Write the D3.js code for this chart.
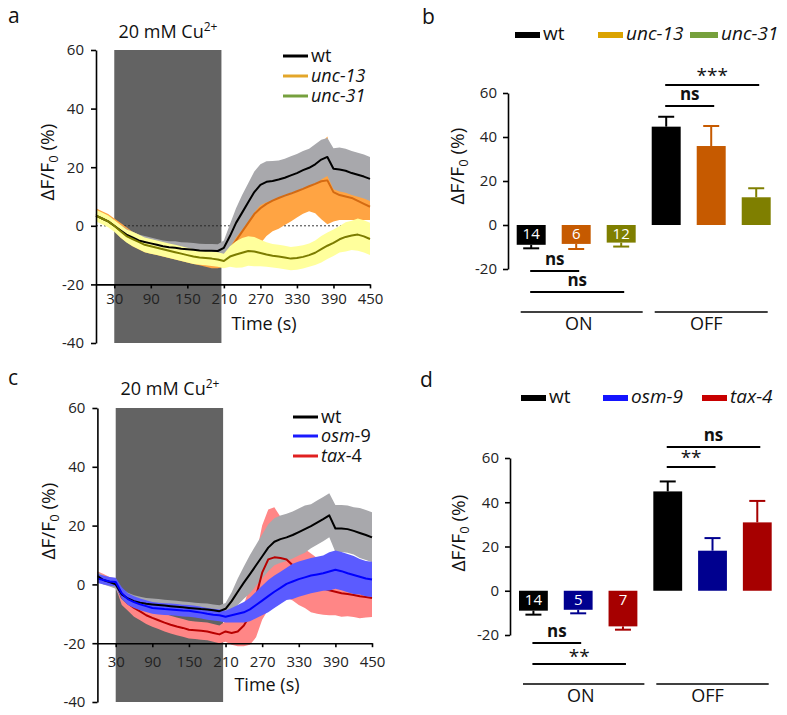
<!DOCTYPE html>
<html><head><meta charset="utf-8">
<script src="https://cdn.jsdelivr.net/npm/d3@7"></script>
<style>body{margin:0;background:#fff} svg{display:block} text{font-family:"Open Sans",sans-serif}</style>
</head><body>
<svg id="chart" width="787" height="715"></svg>
<script>
// ---------- DATA ----------
const timeS = [0,10,20,30,40,50,60,70,80,90,100,110,120,130,140,150,160,170,180,190,200,210,220,230,240,250,260,270,280,290,300,310,320,330,340,350,360,370,380,390,400,410,420,430,440,450];
const stimulus = [30, 206];
const timeTicks = [30,90,150,210,270,330,390,450];
const yTicksTrace = [60,40,20,0,-20,-40];
const yTicksBar = [60,40,20,0,-20];

// panel a
const aWtMean = [3.5,2.5,1.5,0,-1.5,-3,-4,-5,-5.5,-6,-6.5,-7,-7.3,-7.5,-7.8,-8,-8.2,-8.4,-8.5,-8.5,-8.6,-7.5,-3.5,1,4.5,8,11.5,14,15,15.3,15.8,16.4,17.2,18,19,19.8,21,22.6,23.5,19.5,19.2,18.8,18,17.4,16.8,16];
const aWtSem = [1.5,1.5,1.5,1.5,1.8,2,2,2,2,2,2,2,2,2.2,2.2,2.3,2.3,2.3,2.3,2.3,2.3,2.5,4,5,6,6.5,7,7,7,6.8,6.5,6.5,6.5,6.5,6.5,6.5,6.8,6.8,6.5,7,7.5,7.5,7.5,7.5,7.5,7.5];
const aUnc13Mean = [4,3,2,0.5,-1.5,-3,-4.5,-5.5,-6.5,-7,-7.5,-8,-8.5,-9,-9.5,-10,-10.5,-11,-11.5,-12,-12,-11.5,-8,-5,-2,1,4,6,7.5,8.6,9.5,10.3,11,11.8,12.6,13.5,14.3,15.2,15.5,11.5,10.5,10,9.5,8.5,7.5,6.5];
const aUnc13Sem = [2,2,2,2,2.5,2.5,2.5,2.5,2.5,2.5,2.5,2.5,2.5,2.5,2.5,2.5,2.5,2.5,2.5,2.5,2.5,2.5,4,6,9,12,13,12,11,10.5,10.5,10,9.5,9,8.5,8.5,10,13,15,10,8.5,8,7.5,6.5,5.5,4.5];
const aUnc31Mean = [3.5,2.5,1.5,0,-1.8,-3.5,-4.5,-5.5,-6.5,-7,-7.5,-8,-8.5,-9,-9.5,-10,-10.5,-10.8,-11,-11.2,-11.5,-12,-10.5,-9.8,-9.2,-8.6,-8.8,-9.3,-9.8,-10.2,-10.5,-10.8,-11.2,-11,-10.6,-10,-9.2,-8,-6.8,-5.8,-4.6,-3.8,-3.3,-3,-3.6,-4.5];
const aUnc31Sem = [2,2,2,2,2.2,2.2,2.5,2.5,2.5,2.5,2.5,2.5,2.5,2.5,2.5,2.5,2.5,2.5,2.5,2.5,2.5,2.5,3.5,4.5,5,5,5,4.5,4.2,4,4,4,4,4,4,4,4.2,4.5,4.5,4.5,4.5,5,5,5.5,5.5,5.5];

// panel c
const cWtMean = [2.8,1.5,0.8,0,-3.4,-4.8,-5.7,-6.2,-6.6,-6.8,-7,-7.2,-7.4,-7.6,-7.8,-8,-8.2,-8.4,-8.5,-8.8,-9.1,-8.3,-5.7,-2.5,0.6,3.5,6.5,9.5,12.5,14.5,15.4,16,16.8,17.8,18.8,19.8,21,22.2,23.5,19,19,18.8,18.2,17.5,16.8,16];
const cWtSem = [1.5,1.5,1.5,1.5,2,2,2,2,2,2,2,2,2,2,2,2,2,2,2,2,2,2,3,4.5,5.5,6.5,7,7.5,8,8,8,8,8,8,8,7.5,7.5,7.5,7.5,8,8,8,8,8.5,8.5,8.5];
const cOsm9Mean = [2,1.5,1,0.8,-3,-5,-6,-6.8,-7.4,-8,-8.2,-8.4,-8.5,-8.7,-8.9,-9,-9.3,-9.6,-10,-10.3,-10.5,-11,-10.5,-10,-9.5,-8.5,-7,-5.5,-4,-2.5,-1.2,0.2,1,1.8,2.4,3,3.4,3.8,4.4,5,4.5,3.8,3.2,2.6,2,1.7];
const cOsm9Sem = [1.5,1.5,1.5,1.5,2,2,2,2,2,2,2,2,2,2,2,2,2,2,2,2,2,2,2.5,3,3.5,4,4.5,5,5.5,5.5,5.5,5.5,6,6,6,6,6,6,6.5,6.5,6.5,6.5,6.5,6,6,6];
const cTax4Mean = [3,2,1,0.5,-4.5,-6.5,-8,-9.2,-10.5,-11.4,-12.2,-13,-13.7,-14.3,-14.8,-15.4,-15.6,-15.8,-16,-16.5,-17,-16,-16.5,-16,-14,-10.5,-4,4,8.5,9.2,9,8.5,6.5,4,2,0.5,-0.5,-1.3,-2,-2.5,-3,-3.3,-3.6,-4,-4.3,-4.6];
const cTax4Sem = [1.5,1.5,1.5,1.5,2.5,2.5,3,3,3,3,3,3,3,3,3,3,3,3,3,3,3,3.5,4,5,7,10,14,16,17,17,14,13,12,11,10,10,9.5,9,8.5,8,8,7.5,7.5,7.5,7,6.5];

// bar panels
const barGroups = ["ON","OFF"];
const bGenotypes = ["wt","unc-13","unc-31"];
const bOnMean = [-9.0,-8.6,-8.0];
const bOnSem = [1.6,2.3,1.8];
const bOffMean = [44.7,35.9,12.6];
const bOffSem = [4.5,9.1,4.1];
const bN = [14,6,12];
const dGenotypes = ["wt","osm-9","tax-4"];
const dOnMean = [-9.0,-8.6,-16.1];
const dOnSem = [1.8,1.6,1.5];
const dOffMean = [44.9,18.1,30.9];
const dOffSem = [4.5,5.7,9.7];
const dN = [14,5,7];
const bSigOff = [["wt","unc-13","ns"],["wt","unc-31","***"]];
const bSigOn = [["wt","unc-13","ns"],["wt","unc-31","ns"]];
const dSigOff = [["wt","osm-9","**"],["wt","tax-4","ns"]];
const dSigOn = [["wt","osm-9","ns"],["wt","tax-4","**"]];

// ---------- DRAWING ----------
const svg = d3.select("#chart");

function styleAxis(a, fs) {
  a.select(".domain").attr("stroke","#000").attr("stroke-width",1.6);
  a.selectAll(".tick line").attr("stroke","#000").attr("stroke-width",1.6);
  a.selectAll(".tick text").attr("fill","#222").style("font-size",fs+"px").style("font-family",'"Open Sans",sans-serif');
}
function yLabel(cx, cy) {
  const t = svg.append("text").attr("transform",`translate(${cx},${cy}) rotate(-90)`)
    .attr("text-anchor","middle").attr("dy","0.35em").style("font-size","19px").attr("fill","#111");
  t.append("tspan").text("ΔF/F");
  t.append("tspan").text("0").style("font-size","13px").attr("dy",4);
  t.append("tspan").text(" (%)").attr("dy",-4);
}
function letter(txt, x, y) {
  svg.append("text").attr("x",x).attr("y",y).text(txt).style("font-size","21px").attr("fill","#111");
}

function tracePanel(o) {
  const g = svg.append("g");
  const x = d3.scaleLinear().domain([0,450]).range(o.xr);
  const y = d3.scaleLinear().domain([-40,60]).range(o.yr);
  g.append("rect").attr("x",x(stimulus[0])).attr("width",x(stimulus[1])-x(stimulus[0]))
    .attr("y",y(60)).attr("height",y(-40)-y(60)).attr("fill","#636363");
  if (o.zeroEnd) g.append("line").attr("x1",x(0)).attr("x2",x(o.zeroEnd)).attr("y1",y(0)).attr("y2",y(0))
    .attr("stroke","#222").attr("stroke-width",0.9).attr("stroke-dasharray","2,2");
  const area = s => d3.area().x((d,i)=>x(timeS[i])).y0((d,i)=>y(s.mean[i]-s.sem[i])).y1((d,i)=>y(s.mean[i]+s.sem[i]));
  const line = s => d3.line().x((d,i)=>x(timeS[i])).y((d,i)=>y(s.mean[i]));
  o.order.forEach(([kind,s]) => {
    if (kind==="band") g.append("path").datum(s.mean).attr("d",area(s)).attr("fill",s.band);
    else g.append("path").datum(s.mean).attr("d",line(s)).attr("fill","none").attr("stroke",s.line).attr("stroke-width",2).attr("stroke-linejoin","round");
  });
  const ya = g.append("g").attr("transform",`translate(${x(0)},0)`)
    .call(d3.axisLeft(y).tickValues(yTicksTrace).tickSize(5).tickSizeOuter(0).tickPadding(7).tickFormat(d=>String(d)));
  styleAxis(ya,15);
  const xa = g.append("g").attr("transform",`translate(0,${y(-20)})`)
    .call(d3.axisBottom(x).tickValues(timeTicks).tickSize(4).tickSizeOuter(0).tickPadding(o.xPad).tickFormat(d=>String(d)));
  styleAxis(xa,15);
  g.append("text").attr("x",o.timeX).attr("y",o.timeY).attr("text-anchor","middle").style("font-size","18px").attr("fill","#111").text("Time (s)");
  const tt = g.append("text").attr("x",o.titleX).attr("y",o.titleY).attr("text-anchor","middle").style("font-size","18px").attr("fill","#111");
  tt.append("tspan").text("20 mM Cu");
  tt.append("tspan").text("2+").attr("dy",-7).style("font-size","12px");
  o.legend.forEach((L,i) => {
    const by = o.legY[i];
    g.append("line").attr("x1",o.legX).attr("x2",o.legX+25).attr("y1",by-6).attr("y2",by-6).attr("stroke",L.color).attr("stroke-width",3);
    const t = g.append("text").attr("x",o.legX+28).attr("y",by).style("font-size","18px").attr("fill","#111");
    L.parts.forEach(p => t.append("tspan").text(p[0]).style("font-style",p[1]?"italic":"normal"));
  });
}

function barPanel(o) {
  const g = svg.append("g");
  const keys = [];
  barGroups.forEach(gr => o.genotypes.forEach(gt => keys.push(gr+"|"+gt)));
  const x = d3.scaleBand().domain(keys).range(o.xr).paddingInner(0.356).paddingOuter(0);
  const bw = x.bandwidth();
  const y = d3.scaleLinear().domain([-20,60]).range(o.yr);
  const rows = [];
  barGroups.forEach((gr,gi) => o.genotypes.forEach((gt,k) => rows.push({
    key: gr+"|"+gt, group: gr, k,
    mean: (gi===0?o.onMean:o.offMean)[k], sem: (gi===0?o.onSem:o.offSem)[k], color: o.barColors[k]})));
  rows.forEach(r => {
    const x0 = x(r.key), cx = x0 + bw/2;
    const end = r.mean < 0 ? r.mean - r.sem : r.mean + r.sem;
    g.append("line").attr("x1",cx).attr("x2",cx).attr("y1",y(r.mean)).attr("y2",y(end)).attr("stroke",r.color).attr("stroke-width",2);
    g.append("line").attr("x1",cx-8).attr("x2",cx+8).attr("y1",y(end)).attr("y2",y(end)).attr("stroke",r.color).attr("stroke-width",2);
    g.append("rect").attr("x",x0).attr("width",bw).attr("y",Math.min(y(0),y(r.mean))).attr("height",Math.abs(y(r.mean)-y(0))).attr("fill",r.color);
    if (r.group==="ON") g.append("text").attr("x",cx).attr("y",y(0)+14).attr("text-anchor","middle")
      .style("font-size","15px").attr("fill","#fff").text(o.n[r.k]);
  });
  const ya = g.append("g").attr("transform",`translate(${o.axisX},0)`)
    .call(d3.axisLeft(y).tickValues(yTicksBar).tickSize(5).tickSizeOuter(0).tickPadding(6).tickFormat(d=>String(d)));
  styleAxis(ya,15);
  o.genotypes.forEach((gt,i) => {
    g.append("rect").attr("x",o.legX[i]).attr("y",o.legY-8).attr("width",o.legW[i]).attr("height",6).attr("fill",o.legColors[i]);
    g.append("text").attr("x",o.legX[i]+o.legW[i]+3).attr("y",o.legY).style("font-size","19px")
      .style("font-style", i===0?"normal":"italic").attr("fill","#111").text(gt);
  });
  const sig = (list, grp, levels, textOff) => list.forEach((s,i) => {
    const x1 = x(grp+"|"+s[0]) + bw/2 - 1, x2 = x(grp+"|"+s[1]) + bw/2 + 3;
    g.append("line").attr("x1",x1).attr("x2",x2).attr("y1",levels[i]).attr("y2",levels[i]).attr("stroke","#000").attr("stroke-width",2.2);
    const isStar = s[2].indexOf("*")>=0;
    g.append("text").attr("x",(x1+x2)/2).attr("y",levels[i]-(isStar?textOff.star:textOff.ns)).attr("text-anchor","middle")
      .style("font-size",isStar?"19px":"17px").style("font-weight",isStar?"normal":"bold").attr("fill","#111").text(s[2]);
  });
  sig(o.sigOff,"OFF",o.offLevels,{ns:6,star:3});
  sig(o.sigOn,"ON",o.onLevels,{ns:6,star:1});
  const on0 = x("ON|"+o.genotypes[0]) + 4, on1 = x("ON|"+o.genotypes[2]) + bw + 7;
  const off0 = x("OFF|"+o.genotypes[0]) + 3, off1 = x("OFF|"+o.genotypes[2]) + bw - 3;
  [[on0,on1,"ON"],[off0,off1,"OFF"]].forEach(([a,b,lab]) => {
    g.append("line").attr("x1",a).attr("x2",b).attr("y1",o.grpY).attr("y2",o.grpY).attr("stroke","#000").attr("stroke-width",1.6);
    g.append("text").attr("x",(a+b)/2+(lab==="ON"?-3:-5)).attr("y",o.grpY+18).attr("text-anchor","middle").style("font-size","18px").attr("fill","#111").text(lab);
  });
}

// panel a
const sAwt = {mean:aWtMean, sem:aWtSem, band:"#a8a8ac", line:"#000"};
const sA13 = {mean:aUnc13Mean, sem:aUnc13Sem, band:"#ffa443", line:"#d46a12"};
const sA31 = {mean:aUnc31Mean, sem:aUnc31Sem, band:"#ffff9c", line:"#7c7c00"};
tracePanel({xr:[96,370], yr:[343,50], zeroEnd:405, xPad:5,
  order:[["band",sA13],["band",sAwt],["line",sA13],["band",sA31],["line",sAwt],["line",sA31]],
  timeX:264, timeY:330, titleX:168, titleY:38, legX:283, legY:[62,82,102],
  legend:[{color:"#000",parts:[["wt",0]]},{color:"#e3a62a",parts:[["unc-13",1]]},{color:"#76a03e",parts:[["unc-31",1]]}]});
letter("a",8,23);
yLabel(47,162);

// panel c
const sCwt = {mean:cWtMean, sem:cWtSem, band:"#a8a8ac", line:"#000"};
const sCosm = {mean:cOsm9Mean, sem:cOsm9Sem, band:"#5b5bff", line:"#0000ff"};
const sCtax = {mean:cTax4Mean, sem:cTax4Sem, band:"#ff8686", line:"#b80000"};
tracePanel({xr:[97.4,372], yr:[702,408], zeroEnd:0, xPad:9,
  order:[["band",sCtax],["band",sCwt],["line",sCtax],["band",sCosm],["line",sCwt],["line",sCosm]],
  timeX:267, timeY:691, titleX:170, titleY:395, legX:293, legY:[423,442,462],
  legend:[{color:"#000",parts:[["wt",0]]},{color:"#1a1aff",parts:[["osm",1],["-9",0]]},{color:"#e02020",parts:[["tax",1],["-4",0]]}]});
letter("c",8,385);
yLabel(48,521);

// panel b
barPanel({xr:[516.7,770.7], yr:[269,93], axisX:508, genotypes:bGenotypes,
  onMean:bOnMean, onSem:bOnSem, offMean:bOffMean, offSem:bOffSem, n:bN,
  barColors:["#000000","#c65a00","#7f7f00"], legColors:["#000000","#dba300","#76a03c"],
  legX:[515,598,690], legW:[25,25,28], legY:40,
  sigOff:bSigOff, offLevels:[106,85], sigOn:bSigOn, onLevels:[271,292], grpY:312});
letter("b",422,24);
yLabel(457,166);

// panel d
barPanel({xr:[519,771.7], yr:[635,458], axisX:510, genotypes:dGenotypes,
  onMean:dOnMean, onSem:dOnSem, offMean:dOffMean, offSem:dOffSem, n:dN,
  barColors:["#000000","#00008f","#a60000"], legColors:["#000000","#1414ff","#c80000"],
  legX:[521,603,702], legW:[25,25,25], legY:403,
  sigOff:dSigOff, offLevels:[467,447], sigOn:dSigOn, onLevels:[643,664], grpY:684});
letter("d",420,387);
yLabel(458,533);
</script>
</body></html>
